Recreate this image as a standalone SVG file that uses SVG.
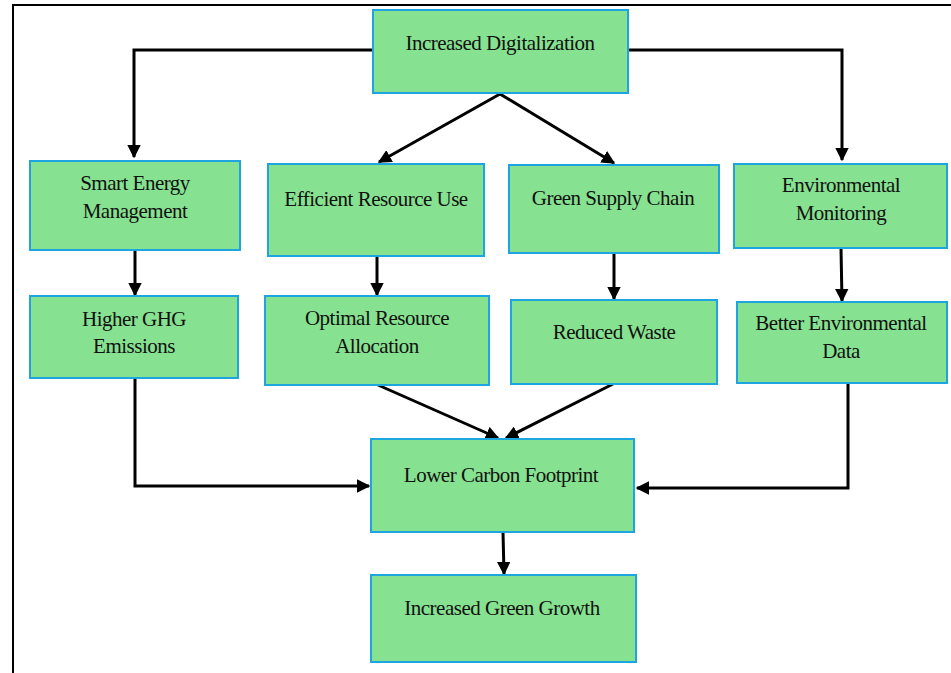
<svg xmlns="http://www.w3.org/2000/svg" width="951" height="673" viewBox="0 0 951 673">
<defs>
<style>
.box{fill:#86e290;stroke:#1ea5e0;stroke-width:2}
.t{font-size:21px;fill:#111;text-anchor:middle;letter-spacing:-0.5px}
.c{fill:none;stroke:#000;stroke-width:3}
</style>
<marker id="ah" viewBox="0 0 10 10" refX="9" refY="5" markerWidth="4.5" markerHeight="4.5" orient="auto" markerUnits="strokeWidth">
<path d="M0,0 L10,5 L0,10 z" fill="#000"/>
</marker>
</defs>
<rect width="951" height="673" fill="#fff"/>
<path d="M13,673 V5 H951" fill="none" stroke="#000" stroke-width="2"/>
<g id="connectors">
<path class="c" d="M373,50 H134 V157" marker-end="url(#ah)"/>
<path class="c" d="M628,50 H842 V160" marker-end="url(#ah)"/>
<path class="c" d="M500,94 L379,162" marker-end="url(#ah)"/>
<path class="c" d="M500,94 L614,163" marker-end="url(#ah)"/>
<path class="c" d="M135,250 V295" marker-end="url(#ah)"/>
<path class="c" d="M377,256 V295" marker-end="url(#ah)"/>
<path class="c" d="M614,253 V299" marker-end="url(#ah)"/>
<path class="c" d="M841,248 L842,301" marker-end="url(#ah)"/>
<path class="c" d="M378,385 L498,438" marker-end="url(#ah)"/>
<path class="c" d="M613,384 L506,438" marker-end="url(#ah)"/>
<path class="c" d="M135,378 V486 H369" marker-end="url(#ah)"/>
<path class="c" d="M848,383 V488 H637" marker-end="url(#ah)"/>
<path class="c" d="M503,532 L504,574" marker-end="url(#ah)"/>
</g>
<g font-family="Liberation Serif, Times New Roman, serif">
<g id="n1"><rect class="box" x="373" y="10" width="255" height="83"/><text class="t" x="500" y="50">Increased Digitalization</text></g>
<g id="n2"><rect class="box" x="30" y="161" width="210" height="89"/><text class="t" x="135" y="190">Smart Energy</text><text class="t" x="135" y="218">Management</text></g>
<g id="n3"><rect class="box" x="268" y="164" width="216" height="92"/><text class="t" x="376" y="206">Efficient Resource Use</text></g>
<g id="n4"><rect class="box" x="509" y="165" width="210" height="88"/><text class="t" x="613" y="205">Green Supply Chain</text></g>
<g id="n5"><rect class="box" x="734" y="164" width="213" height="84"/><text class="t" x="841" y="192">Environmental</text><text class="t" x="841" y="220">Monitoring</text></g>
<g id="n6"><rect class="box" x="30" y="296" width="208" height="82"/><text class="t" x="134" y="326">Higher GHG</text><text class="t" x="134" y="353">Emissions</text></g>
<g id="n7"><rect class="box" x="265" y="296" width="224" height="89"/><text class="t" x="377" y="325">Optimal Resource</text><text class="t" x="377" y="353">Allocation</text></g>
<g id="n8"><rect class="box" x="511" y="300" width="206" height="84"/><text class="t" x="614" y="339">Reduced Waste</text></g>
<g id="n9"><rect class="box" x="737" y="302" width="210" height="81"/><text class="t" x="841" y="330">Better Environmental</text><text class="t" x="841" y="358">Data</text></g>
<g id="n10"><rect class="box" x="371" y="439" width="263" height="93"/><text class="t" x="501" y="482">Lower Carbon Footprint</text></g>
<g id="n11"><rect class="box" x="371" y="575" width="265" height="87"/><text class="t" x="502" y="615">Increased Green Growth</text></g>
</g>
</svg>
